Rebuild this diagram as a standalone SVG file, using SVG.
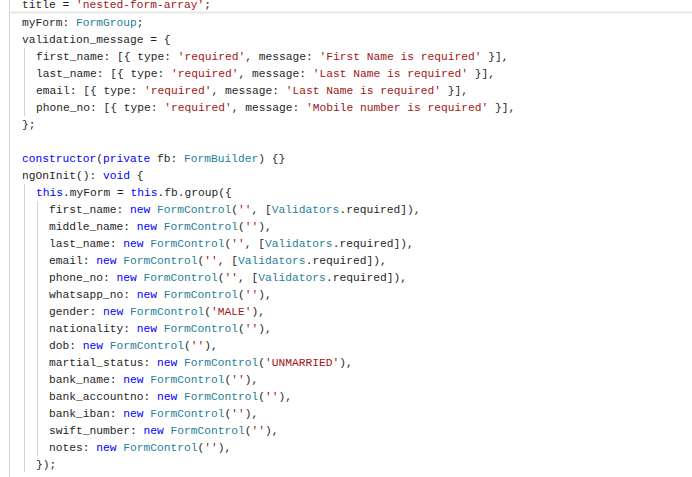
<svg xmlns="http://www.w3.org/2000/svg" width="692" height="477" viewBox="0 0 692 477">
<style>
text{font-family:"Liberation Mono","DejaVu Sans Mono",monospace;font-size:11.25px;fill:#1f1f1f;white-space:pre}
.s{fill:#a31515}.k{fill:#0000ff}.t{fill:#267f99}
.g{stroke:#d4d4d4;stroke-width:1}
</style>
<rect width="692" height="477" fill="#fff"/>
<g id="frame">
<line class="g" x1="9.5" y1="0" x2="9.5" y2="477"/>
<line x1="10" y1="12.5" x2="692" y2="12.5" stroke="#e8e8e8" stroke-width="2"/>
<line class="g" x1="24.5" y1="48" x2="24.5" y2="116"/>
<line class="g" x1="24.5" y1="184" x2="24.5" y2="472"/>
<line class="g" x1="37.5" y1="201" x2="37.5" y2="456"/>
</g>
<g id="code" xml:space="preserve">
<text x="22" y="8">title = <tspan class="s">'nested-form-array'</tspan>;</text>
<text x="22" y="26">myForm: <tspan class="t">FormGroup</tspan>;</text>
<text x="22" y="43">validation_message = {</text>
<text x="36" y="60">first_name: [{ type: <tspan class="s">'required'</tspan>, message: <tspan class="s">'First Name is required'</tspan> }],</text>
<text x="36" y="77">last_name: [{ type: <tspan class="s">'required'</tspan>, message: <tspan class="s">'Last Name is required'</tspan> }],</text>
<text x="36" y="94">email: [{ type: <tspan class="s">'required'</tspan>, message: <tspan class="s">'Last Name is required'</tspan> }],</text>
<text x="36" y="111">phone_no: [{ type: <tspan class="s">'required'</tspan>, message: <tspan class="s">'Mobile number is required'</tspan> }],</text>
<text x="22" y="128">};</text>
<text x="22" y="162"><tspan class="k">constructor</tspan>(<tspan class="k">private</tspan> fb: <tspan class="t">FormBuilder</tspan>) {}</text>
<text x="22" y="179">ngOnInit(): <tspan class="k">void</tspan> {</text>
<text x="36" y="196"><tspan class="k">this</tspan>.myForm = <tspan class="k">this</tspan>.fb.group({</text>
<text x="49" y="213">first_name: <tspan class="k">new</tspan> <tspan class="t">FormControl</tspan>(<tspan class="s">''</tspan>, [<tspan class="t">Validators</tspan>.required]),</text>
<text x="49" y="230">middle_name: <tspan class="k">new</tspan> <tspan class="t">FormControl</tspan>(<tspan class="s">''</tspan>),</text>
<text x="49" y="247">last_name: <tspan class="k">new</tspan> <tspan class="t">FormControl</tspan>(<tspan class="s">''</tspan>, [<tspan class="t">Validators</tspan>.required]),</text>
<text x="49" y="264">email: <tspan class="k">new</tspan> <tspan class="t">FormControl</tspan>(<tspan class="s">''</tspan>, [<tspan class="t">Validators</tspan>.required]),</text>
<text x="49" y="281">phone_no: <tspan class="k">new</tspan> <tspan class="t">FormControl</tspan>(<tspan class="s">''</tspan>, [<tspan class="t">Validators</tspan>.required]),</text>
<text x="49" y="298">whatsapp_no: <tspan class="k">new</tspan> <tspan class="t">FormControl</tspan>(<tspan class="s">''</tspan>),</text>
<text x="49" y="315">gender: <tspan class="k">new</tspan> <tspan class="t">FormControl</tspan>(<tspan class="s">'MALE'</tspan>),</text>
<text x="49" y="332">nationality: <tspan class="k">new</tspan> <tspan class="t">FormControl</tspan>(<tspan class="s">''</tspan>),</text>
<text x="49" y="349">dob: <tspan class="k">new</tspan> <tspan class="t">FormControl</tspan>(<tspan class="s">''</tspan>),</text>
<text x="49" y="366">martial_status: <tspan class="k">new</tspan> <tspan class="t">FormControl</tspan>(<tspan class="s">'UNMARRIED'</tspan>),</text>
<text x="49" y="383">bank_name: <tspan class="k">new</tspan> <tspan class="t">FormControl</tspan>(<tspan class="s">''</tspan>),</text>
<text x="49" y="400">bank_accountno: <tspan class="k">new</tspan> <tspan class="t">FormControl</tspan>(<tspan class="s">''</tspan>),</text>
<text x="49" y="417">bank_iban: <tspan class="k">new</tspan> <tspan class="t">FormControl</tspan>(<tspan class="s">''</tspan>),</text>
<text x="49" y="434">swift_number: <tspan class="k">new</tspan> <tspan class="t">FormControl</tspan>(<tspan class="s">''</tspan>),</text>
<text x="49" y="451">notes: <tspan class="k">new</tspan> <tspan class="t">FormControl</tspan>(<tspan class="s">''</tspan>),</text>
<text x="36" y="468">});</text>
</g>
</svg>
